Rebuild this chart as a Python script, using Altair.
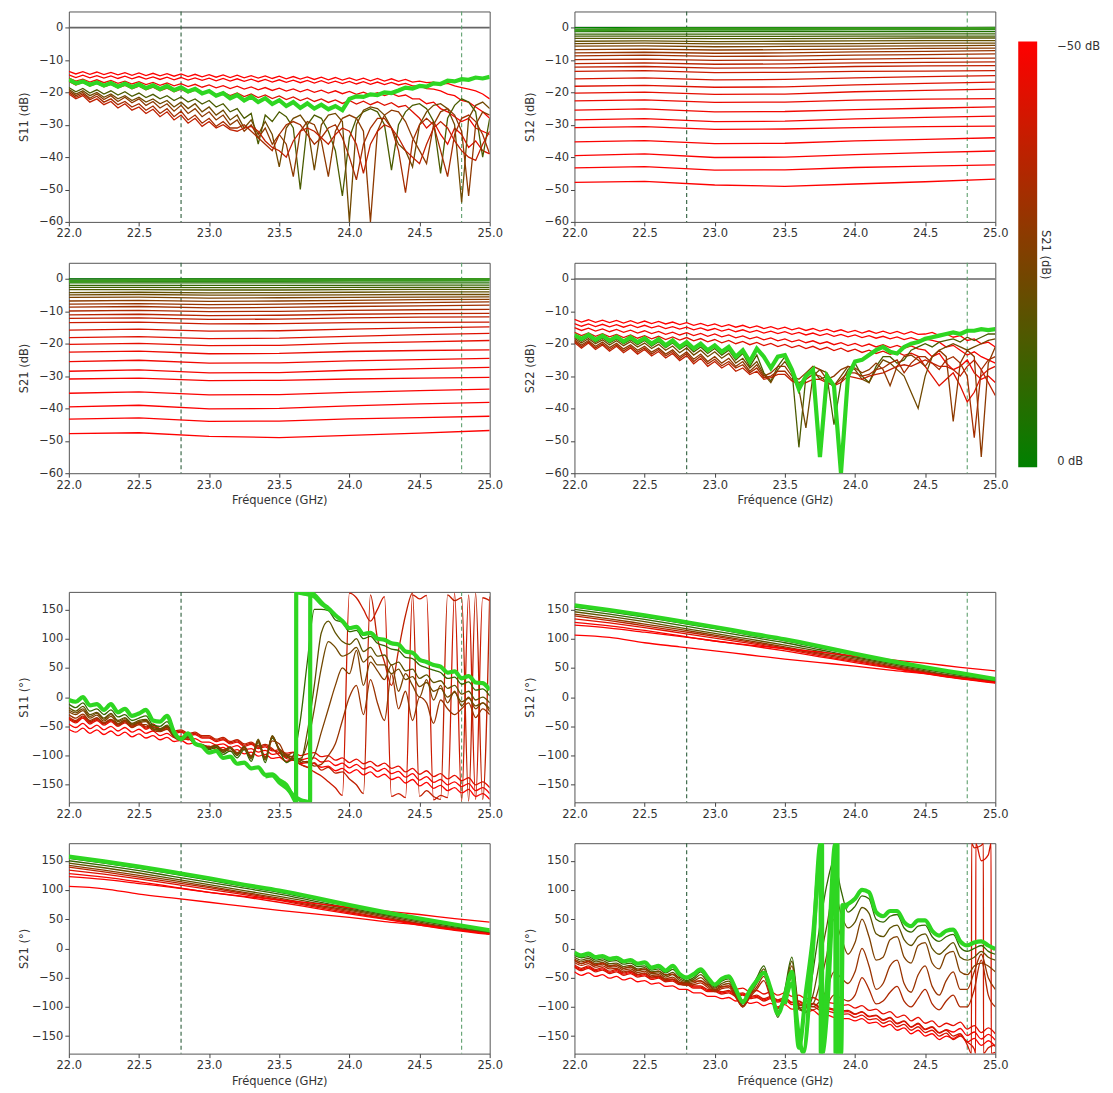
import pandas as pd
import altair as alt

# ---------------- frequency grids (GHz) ----------------
FREQ = [round(22.0 + 0.05 * i, 2) for i in range(61)]
ANCH7 = [22.0, 22.5, 23.0, 23.5, 24.0, 24.5, 25.0]
ANCH13 = [22.0, 22.25, 22.5, 22.75, 23.0, 23.25, 23.5, 23.75, 24.0, 24.25, 24.5, 24.75, 25.0]
XTICKS = [22.0, 22.5, 23.0, 23.5, 24.0, 24.5, 25.0]
DB_TICKS = [-60, -50, -40, -30, -20, -10, 0]
PH_TICKS = [-150, -100, -50, 0, 50, 100, 150]
MARKERS = [22.8, 24.8]


def vals(s):
    return [float(x) for x in s.split()]


# ---------------- S12 / S21 magnitude (dB), one list per anchor frequency ----------------
THRU_DB_22_0 = vals("0.0 -0.7 -1.2 -2.0 -2.6 -3.3 -4.2 -4.9 -5.7 -6.8 -7.8 -8.7 -9.9 -11.1 -12.2 -13.5 -15.8 -18.1 -20.2 -22.6 -25.5 -28.5 -30.9 -35.3 -39.5 -43.3 -47.8")
THRU_DB_22_5 = vals("0.0 -0.7 -1.2 -2.0 -2.6 -3.3 -4.1 -4.8 -5.6 -6.6 -7.6 -8.5 -9.7 -10.9 -12.0 -13.3 -15.5 -17.8 -19.9 -22.3 -25.1 -28.1 -30.6 -34.9 -39.0 -42.9 -47.5")
THRU_DB_23_0 = vals("0.0 -0.7 -1.2 -2.0 -2.7 -3.4 -4.3 -5.0 -5.9 -6.9 -7.9 -8.9 -10.1 -11.3 -12.5 -13.9 -16.1 -18.4 -20.6 -23.1 -26.0 -29.0 -31.4 -35.8 -40.1 -44.0 -48.6")
THRU_DB_23_5 = vals("0.0 -0.7 -1.2 -2.0 -2.7 -3.4 -4.2 -5.0 -5.8 -6.8 -7.8 -8.8 -10.0 -11.2 -12.4 -13.8 -16.0 -18.3 -20.5 -23.0 -25.9 -28.9 -31.3 -35.7 -40.0 -43.9 -49.0")
THRU_DB_24_0 = vals("0.0 -0.6 -1.2 -2.0 -2.6 -3.3 -4.1 -4.9 -5.7 -6.6 -7.5 -8.5 -9.7 -10.9 -12.0 -13.5 -15.5 -17.7 -19.8 -22.4 -25.3 -28.2 -30.9 -35.0 -39.2 -43.2 -48.3")
THRU_DB_24_5 = vals("0.0 -0.6 -1.2 -1.9 -2.6 -3.2 -4.0 -4.8 -5.6 -6.4 -7.3 -8.3 -9.5 -10.7 -11.8 -13.4 -15.1 -17.2 -19.4 -22.1 -24.9 -27.7 -30.6 -34.5 -38.6 -42.8 -47.6")
THRU_DB_25_0 = vals("0.0 -0.6 -1.2 -1.9 -2.6 -3.2 -4.0 -4.8 -5.5 -6.3 -7.1 -8.1 -9.4 -10.6 -11.7 -13.3 -14.8 -16.8 -19.0 -21.9 -24.5 -27.3 -30.4 -34.0 -38.1 -42.4 -46.8")
THRU_DB_LIME = vals("-0.8 -0.4 -0.4 -0.4 -0.3 -0.3 -0.2")

# ---------------- S12 / S21 phase (deg) on ANCH13 ----------------
THRU_PH = {
    ("lime", 0.0): vals("157 149 140 130 120 109 99 87 74 62 51 41 31"),
    ("b1", -0.7): vals("154 146 137 127 117 106 96 84 72 60 49 39 30"),
    ("b2", -2.0): vals("150 142 133 123 113 103 93 81 69 58 47 37 28"),
    ("b3", -4.0): vals("146 138 129 119 109 99 89 78 67 56 45 35 27"),
    ("b4", -6.8): vals("142 134 125 116 106 96 86 75 65 54 43 34 26"),
    ("b5", -11.0): vals("139 131 122 113 104 94 84 73 63 52 42 33 25"),
    ("r1", -18.0): vals("134 127 119 110 101 92 82 71 61 51 41 32 25"),
    ("r2", -28.0): vals("128 122 114 105 96 88 79 69 59 50 40 31 24"),
    ("r3", -39.5): vals("123 118 111 104 96 89 83 77 70 64 58 51 45"),
    ("r4", -47.8): vals("106 102 93 86 79 72 65 59 53 46 40 32 25"),
}

# ---------------- S11 magnitude (dB) on FREQ ----------------
S11_DB_LIME = vals("""-16.0 -17.2 -16.6 -17.6 -16.9 -17.9 -17.1 -18.2 -17.3 -18.4
-17.5 -18.7 -17.8 -19.0 -18.0 -19.3 -18.4 -19.7 -18.9 -20.3
-19.6 -21.0 -20.2 -21.8 -20.8 -22.5 -21.3 -23.0 -21.8 -23.6
-22.4 -24.2 -23.0 -24.8 -23.4 -25.0 -23.8 -25.2 -24.2 -25.5
-22.0 -21.2 -21.4 -20.6 -20.8 -20.0 -20.2 -19.4 -18.5 -18.8
-18.0 -18.2 -17.2 -17.4 -16.4 -16.6 -15.9 -16.1 -15.4 -15.7 -15.2""")
S11_DB_R1 = vals("""-13.5 -14.3 -13.6 -14.4 -13.7 -14.5 -13.8 -14.6 -13.9 -14.7
-14.0 -14.8 -14.1 -14.9 -14.2 -15.0 -14.3 -15.1 -14.4 -15.2
-14.5 -15.3 -14.6 -15.4 -14.7 -15.5 -14.8 -15.6 -14.9 -15.7
-15.0 -15.8 -15.1 -15.9 -15.2 -16.0 -15.3 -16.1 -15.4 -16.2
-15.5 -16.3 -15.6 -16.4 -15.7 -16.5 -15.8 -16.6 -16.0 -16.8
-16.5 -17.0 -16.8 -17.5 -17.2 -18.0 -18.5 -19.0 -19.5 -20.5 -22.0""")
S11_DB_R2 = vals("""-14.6 -15.4 -14.7 -15.5 -14.8 -15.6 -14.9 -15.7 -15.0 -15.8
-15.1 -15.9 -15.2 -16.0 -15.3 -16.1 -15.4 -16.2 -15.5 -16.3
-15.6 -16.4 -15.7 -16.5 -15.8 -16.6 -15.9 -16.7 -16.0 -16.8
-16.1 -16.9 -16.2 -17.0 -16.3 -17.1 -16.4 -17.2 -16.5 -17.3
-16.6 -17.4 -16.7 -17.5 -16.8 -17.6 -16.9 -17.7 -17.2 -18.0
-18.0 -18.8 -19.0 -19.5 -20.5 -21.0 -22.5 -23.0 -24.5 -26.0 -28.0""")
S11_DB_R3 = vals("""-15.6 -16.5 -15.9 -16.8 -16.1 -17.0 -16.3 -17.2 -16.5 -17.4
-16.7 -17.6 -16.9 -17.8 -17.1 -18.0 -17.3 -18.2 -17.5 -18.4
-17.7 -18.6 -17.9 -18.8 -18.1 -19.0 -18.3 -19.2 -18.5 -19.4
-18.7 -19.6 -18.9 -19.8 -19.1 -20.0 -19.3 -20.2 -19.5 -20.4
-19.7 -20.6 -19.9 -20.8 -20.1 -21.0 -20.3 -21.2 -20.8 -22.0
-22.0 -23.5 -23.0 -25.0 -26.0 -27.5 -29.0 -28.0 -31.0 -32.0 -33.0""")
S11_DB_R4 = vals("""-16.6 -17.7 -16.9 -18.0 -17.2 -18.3 -17.5 -18.6 -17.8 -18.9
-18.1 -19.2 -18.4 -19.5 -18.7 -19.8 -19.0 -20.1 -19.3 -20.4
-19.6 -20.7 -19.9 -21.0 -20.2 -21.3 -20.5 -21.6 -20.8 -21.9
-21.1 -22.2 -21.4 -22.5 -21.7 -22.8 -22.0 -23.1 -22.3 -23.4
-22.5 -23.6 -22.7 -23.8 -22.9 -24.0 -23.2 -24.5 -24.0 -26.0
-28.0 -31.0 -29.0 -33.0 -36.0 -31.0 -33.0 -37.0 -35.0 -38.0 -39.0""")
S11_DB_B1 = vals("""-18.5 -19.8 -18.8 -20.2 -19.2 -20.5 -19.5 -20.8 -19.8 -21.2
-20.2 -21.6 -20.6 -22.0 -21.0 -22.5 -21.4 -23.0 -22.0 -23.6
-22.5 -24.5 -23.5 -26.0 -25.0 -28.0 -26.5 -36.0 -27.0 -29.0
-26.0 -27.5 -31.0 -50.0 -30.0 -27.0 -28.0 -32.0 -38.0 -52.0
-34.0 -28.0 -26.0 -25.0 -26.0 -30.0 -44.0 -30.0 -26.0 -24.0
-23.5 -25.0 -29.0 -45.0 -28.0 -24.0 -22.0 -23.0 -26.0 -40.0 -28.0""")
S11_DB_B2 = vals("""-19.0 -20.5 -19.5 -21.0 -20.0 -21.5 -20.5 -22.0 -21.0 -22.5
-21.5 -23.0 -22.0 -23.5 -22.5 -24.5 -23.0 -25.0 -23.5 -26.0
-24.5 -27.0 -25.5 -28.5 -27.0 -31.0 -28.5 -33.0 -29.0 -33.0
-43.0 -31.0 -28.0 -27.0 -30.0 -44.0 -30.0 -27.0 -26.5 -29.0
-60.0 -30.0 -25.5 -24.5 -25.0 -27.0 -31.0 -36.0 -38.0 -43.0
-30.0 -26.0 -24.0 -23.5 -25.0 -30.0 -54.0 -28.0 -24.0 -23.0 -25.0""")
S11_DB_B3 = vals("""-19.5 -21.0 -20.0 -21.8 -20.5 -22.2 -21.0 -22.8 -21.5 -23.2
-22.0 -24.0 -22.8 -24.8 -23.5 -25.8 -24.0 -26.5 -25.0 -27.5
-26.0 -28.5 -27.0 -30.0 -28.5 -32.0 -30.0 -34.0 -31.0 -36.0
-33.0 -36.0 -46.0 -32.0 -29.0 -30.0 -35.0 -46.0 -32.0 -28.0
-27.0 -28.0 -32.0 -60.0 -32.0 -27.0 -25.5 -26.0 -29.0 -34.0
-38.0 -42.0 -30.0 -26.0 -25.0 -27.0 -32.0 -52.0 -30.0 -26.0 -27.0""")
S11_DB_B4 = vals("""-20.0 -21.5 -20.5 -22.3 -21.2 -23.0 -22.0 -23.8 -22.8 -24.5
-23.5 -25.5 -24.2 -26.5 -25.0 -27.5 -25.8 -28.5 -27.0 -29.5
-28.0 -30.5 -29.0 -31.0 -31.0 -30.0 -32.0 -34.0 -36.0 -38.0
-33.0 -30.0 -29.0 -30.0 -33.0 -36.0 -34.0 -31.0 -30.0 -34.0
-40.0 -47.0 -36.0 -31.0 -28.0 -28.0 -31.0 -38.0 -51.0 -35.0
-30.0 -28.0 -30.0 -38.0 -46.0 -33.0 -28.0 -27.0 -29.0 -33.0 -39.0""")
S11_DB_B5 = vals("""-20.5 -22.0 -21.0 -23.0 -22.0 -23.8 -22.8 -24.8 -23.5 -25.5
-24.5 -26.5 -25.2 -27.5 -26.0 -28.5 -27.0 -29.5 -28.0 -30.5
-29.0 -31.0 -30.0 -31.5 -32.0 -31.0 -30.5 -32.0 -35.0 -37.0
-38.0 -40.0 -35.0 -32.0 -31.0 -32.0 -34.0 -36.0 -33.0 -31.0
-32.0 -36.0 -45.0 -36.0 -32.0 -30.0 -31.0 -34.0 -38.0 -40.0
-42.0 -36.0 -31.0 -29.0 -31.0 -35.0 -38.0 -40.0 -41.0 -36.0 -32.0""")

# ---------------- S22 magnitude (dB) on FREQ ----------------
S22_DB_LIME = vals("""-17.3 -18.5 -17.2 -18.8 -17.5 -19.0 -17.8 -19.3 -18.0 -19.5
-18.3 -20.0 -18.6 -20.5 -19.0 -21.0 -19.5 -21.5 -20.0 -22.0
-20.5 -22.5 -21.0 -24.0 -22.0 -25.5 -21.5 -24.0 -27.5 -24.0
-23.5 -28.0 -34.0 -30.0 -28.0 -55.0 -30.0 -33.0 -60.0 -30.0
-25.5 -25.0 -23.5 -22.0 -21.0 -22.5 -23.0 -21.0 -20.0 -19.5
-18.5 -18.0 -17.5 -17.0 -16.5 -17.0 -16.0 -16.0 -15.5 -15.8 -15.5""")
S22_DB_R1 = vals("""-12.5 -13.3 -12.6 -13.4 -12.7 -13.5 -12.8 -13.6 -12.9 -13.7
-13.0 -13.8 -13.1 -13.9 -13.3 -14.1 -13.5 -14.3 -13.7 -14.5
-13.9 -14.7 -14.1 -14.9 -14.3 -15.1 -14.5 -15.3 -14.7 -15.5
-14.9 -15.7 -15.1 -15.9 -15.3 -16.1 -15.5 -16.3 -15.7 -16.5
-15.9 -16.7 -16.0 -16.8 -16.1 -16.9 -16.2 -17.0 -16.3 -17.1
-17.0 -16.5 -17.5 -17.0 -18.0 -17.5 -19.0 -18.5 -20.0 -19.5 -21.0""")
S22_DB_R2 = vals("""-13.8 -14.6 -13.9 -14.7 -14.0 -14.8 -14.1 -14.9 -14.2 -15.0
-14.3 -15.1 -14.5 -15.3 -14.7 -15.5 -14.9 -15.7 -15.1 -15.9
-15.3 -16.1 -15.5 -16.3 -15.7 -16.5 -15.9 -16.7 -16.1 -16.9
-16.3 -17.1 -16.5 -17.3 -16.7 -17.5 -16.9 -17.7 -17.1 -17.9
-17.3 -18.1 -17.5 -18.3 -17.7 -18.5 -17.9 -18.7 -18.1 -18.9
-18.5 -19.0 -19.5 -21.0 -20.5 -22.0 -23.5 -22.5 -24.0 -25.0 -26.0""")
S22_DB_R3 = vals("""-15.0 -15.9 -15.2 -16.1 -15.4 -16.3 -15.6 -16.5 -15.8 -16.7
-16.0 -16.9 -16.2 -17.1 -16.4 -17.3 -16.6 -17.5 -16.8 -17.7
-17.0 -17.9 -17.3 -18.2 -17.6 -18.5 -17.9 -18.8 -18.2 -19.1
-18.5 -19.4 -18.8 -19.7 -19.1 -20.0 -19.4 -20.3 -19.7 -20.6
-19.9 -20.8 -20.1 -21.0 -20.3 -21.2 -20.5 -21.4 -20.7 -21.6
-22.0 -24.0 -23.0 -26.0 -28.0 -27.0 -25.0 -29.0 -31.0 -30.0 -32.0""")
S22_DB_R4 = vals("""-16.5 -17.5 -16.7 -17.7 -16.9 -17.9 -17.1 -18.1 -17.3 -18.3
-17.5 -18.5 -17.7 -18.7 -17.9 -18.9 -18.1 -19.1 -18.4 -19.4
-18.7 -19.7 -19.0 -20.0 -19.3 -20.3 -19.6 -20.6 -19.9 -20.9
-20.2 -21.2 -20.5 -21.5 -20.8 -21.8 -21.1 -22.1 -21.4 -22.4
-21.7 -22.7 -22.0 -23.0 -22.3 -23.3 -22.6 -23.6 -22.9 -23.9
-27.0 -30.0 -33.0 -31.0 -29.0 -33.0 -38.0 -35.0 -30.0 -28.0 -27.0""")
S22_DB_B1 = vals("""-17.8 -19.2 -17.8 -19.5 -18.2 -19.8 -18.5 -20.0 -18.8 -20.3
-19.0 -20.8 -19.4 -21.2 -19.8 -21.8 -20.4 -22.5 -21.0 -23.0
-21.5 -23.5 -22.0 -25.0 -23.0 -27.0 -23.5 -29.0 -31.5 -27.0
-24.0 -28.0 -52.0 -30.0 -28.0 -31.0 -30.0 -45.0 -32.0 -28.0
-26.0 -30.0 -32.0 -27.0 -24.0 -24.0 -26.0 -25.0 -22.0 -21.0
-20.0 -21.0 -19.5 -19.0 -18.5 -19.5 -18.0 -19.0 -18.0 -17.0 -17.0""")
S22_DB_B2 = vals("""-18.3 -19.8 -18.4 -20.0 -18.8 -20.4 -19.1 -20.6 -19.4 -21.0
-19.8 -21.5 -20.2 -22.0 -20.7 -22.8 -21.3 -23.5 -22.0 -24.0
-22.5 -24.5 -23.0 -26.0 -24.5 -27.5 -25.5 -29.5 -32.0 -28.0
-25.5 -29.0 -34.0 -46.0 -30.0 -28.0 -29.0 -33.0 -30.0 -27.0
-28.0 -31.0 -32.0 -28.0 -25.0 -26.0 -28.0 -30.0 -35.0 -40.0
-30.0 -24.0 -22.0 -21.0 -20.0 -21.0 -22.0 -21.0 -20.0 -19.0 -18.5""")
S22_DB_B3 = vals("""-18.8 -20.4 -19.0 -20.8 -19.5 -21.2 -19.9 -21.6 -20.3 -22.0
-20.8 -22.6 -21.3 -23.2 -21.9 -24.0 -22.5 -24.8 -23.2 -25.5
-24.0 -26.0 -24.5 -27.0 -25.5 -28.5 -26.5 -30.0 -29.0 -27.0
-27.0 -30.0 -31.0 -29.0 -27.0 -28.0 -31.0 -30.0 -28.0 -27.0
-27.5 -29.0 -28.0 -26.0 -28.0 -33.0 -27.0 -24.0 -23.5 -25.0
-27.0 -24.0 -22.0 -24.0 -44.0 -26.0 -22.0 -24.0 -55.0 -26.0 -21.0""")
S22_DB_B4 = vals("""-19.2 -20.9 -19.4 -21.3 -20.0 -21.8 -20.4 -22.2 -20.8 -22.6
-21.3 -23.2 -21.8 -23.8 -22.4 -24.6 -23.0 -25.5 -23.8 -26.2
-24.8 -26.8 -25.5 -27.5 -26.5 -29.0 -27.5 -30.5 -30.0 -28.5
-28.5 -31.0 -32.0 -31.0 -29.5 -30.0 -32.0 -33.0 -31.0 -29.0
-29.0 -30.0 -29.5 -28.0 -27.5 -26.0 -25.0 -29.0 -26.0 -24.0
-24.0 -26.0 -28.0 -25.0 -24.0 -26.0 -30.0 -49.0 -28.0 -25.0 -24.0""")
S22_DB_B5 = vals("""-19.6 -21.4 -19.8 -21.8 -20.4 -22.3 -20.8 -22.8 -21.3 -23.2
-21.8 -23.8 -22.4 -24.4 -23.0 -25.2 -23.7 -26.2 -24.5 -27.0
-25.5 -27.5 -26.2 -28.5 -27.5 -29.5 -28.5 -31.0 -30.5 -29.5
-29.5 -31.5 -32.5 -32.0 -31.0 -31.0 -32.0 -33.0 -32.0 -30.0
-30.5 -31.0 -30.0 -29.5 -29.0 -28.0 -27.0 -26.5 -27.0 -26.0
-25.0 -26.0 -27.0 -27.0 -28.0 -30.0 -27.0 -25.0 -28.0 -32.0 -36.0""")

# ---------------- S11 phase (deg) on FREQ ----------------
S11_PH_LIME = vals("""-5 -8 0 -14 -12 -22 -12 -26 -20 -32
-28 -22 -40 -42 -32 -60 -72 -62 -80 -84
-95 -92 -104 -102 -114 -112 -122 -120 -133 -132
-142 -150 -172 178 176 172 160 152 140 130
118 120 108 110 100 98 92 90 78 76
64 60 55 52 42 44 32 36 25 24 12""")
S11_PH_LIME_WRAP = [(23.62, -180.0), (23.621, 180.0)]
S11_PH_LIME2_F = [23.40, 23.45, 23.50, 23.55, 23.60, 23.65, 23.70, 23.72, 23.721, 23.75, 23.80, 23.85]
S11_PH_LIME2_V = [-136, -134, -146, -155, -168, -176, -179, -180, 180, 175, 162, 150]
S11_PH_R1 = vals("""-38 -44 -36 -46 -40 -48 -42 -50 -44 -52
-47 -55 -50 -58 -54 -62 -60 -66 -64 -70
-70 -76 -73 -80 -77 -84 -81 -88 -85 -92
-90 -96 -94 -100 -97 -95 -102 -100 -108 -104
-112 -106 -114 -110 -118 -113 -122 -118 -128 -122
-132 -126 -136 -131 -140 -134 -143 -138 -150 -145 -155""")
S11_PH_R2 = vals("""-46 -52 -45 -54 -48 -56 -50 -58 -52 -60
-55 -62 -58 -66 -62 -69 -67 -73 -71 -77
-77 -82 -80 -86 -83 -90 -88 -94 -91 -98
-96 -103 -101 -107 -105 -104 -111 -109 -117 -113
-121 -115 -123 -119 -127 -122 -131 -127 -137 -131
-142 -136 -146 -141 -150 -145 -153 -148 -160 -155 -165""")
S11_PH_R3 = vals("""-55 -60 -53 -62 -56 -64 -58 -66 -60 -68
-63 -70 -66 -73 -69 -76 -74 -80 -78 -84
-84 -89 -86 -93 -90 -97 -94 -101 -98 -105
-103 -110 -108 -114 -112 -114 -120 -118 -126 -122
-130 -124 -133 -128 -137 -132 -141 -137 -147 -141
-152 -146 -156 -151 -160 -155 -164 -158 -170 -165 -175""")
S11_PH_B1 = vals("""-12 -18 -10 -24 -20 -30 -22 -34 -30 -40
-36 -32 -48 -50 -42 -64 -72 -66 -80 -84
-90 -86 -98 -92 -104 -90 -110 -78 -112 -70
-90 -112 -100 -40 60 150 150 148 132 128
112 114 100 104 92 88 82 80 68 66
55 50 46 42 32 34 22 26 12 14 2""")
S11_PH_B2 = vals("""-18 -24 -16 -30 -26 -36 -28 -40 -35 -45
-40 -38 -52 -54 -48 -66 -72 -68 -80 -82
-88 -84 -95 -88 -100 -86 -106 -72 -108 -66
-90 -100 -108 -110 -60 20 110 130 110 95
90 100 78 85 70 72 55 60 45 48
32 38 25 28 15 20 5 10 -5 0 -10""")
S11_PH_B3 = vals("""-25 -30 -23 -36 -31 -41 -33 -45 -39 -48
-44 -42 -55 -57 -51 -68 -73 -69 -80 -81
-86 -82 -92 -85 -97 -84 -102 -76 -104 -68
-88 -98 -104 -108 -112 -100 -60 -20 20 50
40 80 20 60 45 30 55 10 40 20
0 30 -5 20 -10 10 -15 0 -20 -10 -25""")
S11_PH_B4 = vals("""-30 -36 -29 -40 -35 -45 -38 -48 -42 -52
-47 -47 -57 -59 -55 -69 -74 -71 -80 -82
-85 -83 -90 -86 -95 -88 -100 -82 -102 -75
-80 -100 -95 -112 -110 -118 -115 -100 -80 -40
0 20 -30 30 -10 -40 40 -20 10 -40
0 -10 -45 -5 -20 -30 -20 -10 -35 -20 -30""")
S11_PH_B5 = vals("""-22 -27 -20 -33 -28 -38 -30 -42 -37 -46
-42 -40 -54 -56 -50 -67 -72 -68 -80 -82
-87 -83 -93 -86 -98 -85 -104 -74 -106 -67
-92 -102 -106 -105 -80 -20 50 95 85 70
75 85 60 70 55 55 40 48 30 35
18 25 10 15 0 8 -8 -2 -15 -10 -20""")
S11_PH_O1 = vals("""-36 -42 -34 -44 -38 -46 -40 -48 -42 -50
-45 -53 -48 -56 -52 -60 -58 -64 -62 -68
-68 -74 -71 -78 -75 -82 -79 -86 -83 -90
-95 -105 -108 -115 -120 -128 -135 -145 -155 -168
178 170 150 130 150 172 -170 -165 -172 175
168 174 -176 -168 -172 178 -178 175 -175 170 165""")
S11_PH_O2 = vals("""-34 -40 -32 -42 -36 -44 -38 -46 -40 -48
-43 -51 -46 -54 -50 -58 -56 -62 -60 -66
-66 -72 -69 -76 -73 -80 -77 -84 -81 -88
-100 -110 -105 -115 -120 -112 -125 -120 -130 -128
-140 -150 -165 175 100 60 20 80 140 178
-170 -160 -170 -175 175 165 170 -178 178 -175 172""")

# ---------------- S22 phase (deg) on FREQ ----------------
S22_PH_LIME = vals("""-7 -12 -9 -15 -13 -18 -16 -22 -20 -26
-24 -33 -30 -38 -30 -44 -50 -44 -36 -50
-62 -52 -48 -70 -92 -72 -55 -42 -70 -112
-80 -40 -170 -75 20 160 -110 120 -180 76
85 100 96 62 55 64 64 45 38 48
48 30 22 30 32 12 5 10 12 5 -1""")
S22_PH_LIME_WRAP = [(23.765, 180.0), (23.766, -180.0), (23.875, 180.0), (23.876, -180.0), (23.915, 72.0)]
S22_PH_LIME2_F = [23.50, 23.55, 23.60, 23.63, 23.70, 23.755, 23.756, 23.80, 23.86, 23.861, 23.90, 23.91, 23.95]
S22_PH_LIME2_V = [-95, -60, -150, -178, 0, 180, -180, -60, 180, -180, -180, 74, 70]
S22_PH_R1 = vals("""-20 -26 -22 -28 -25 -31 -28 -34 -31 -37
-35 -41 -39 -45 -44 -50 -50 -56 -56 -62
-62 -66 -64 -70 -68 -74 -72 -78 -74 -80
-76 -82 -80 -86 -84 -90 -92 -94 -98 -96
-102 -98 -106 -104 -112 -108 -118 -114 -124 -118
-128 -124 -134 -128 -132 -126 -138 -132 -144 -136 -146""")
S22_PH_R2 = vals("""-30 -36 -32 -38 -35 -41 -38 -44 -41 -47
-45 -51 -49 -55 -54 -60 -60 -66 -66 -72
-72 -76 -74 -80 -78 -84 -82 -88 -84 -90
-86 -93 -91 -98 -95 -102 -103 -106 -109 -108
-113 -109 -117 -115 -123 -119 -129 -125 -135 -129
-139 -135 -145 -139 -143 -137 -149 -143 -155 -147 -157""")
S22_PH_R3 = vals("""-40 -46 -42 -48 -45 -51 -48 -54 -51 -57
-55 -61 -59 -65 -64 -70 -70 -76 -76 -82
-82 -86 -84 -90 -88 -94 -92 -98 -94 -100
-96 -104 -102 -110 -106 -114 -114 -118 -120 -120
-124 -120 -128 -126 -134 -130 -140 -136 -146 -140
-150 -146 -156 -150 -154 -148 -160 -154 -166 -158 -168""")
S22_PH_B1 = vals("""-12 -16 -14 -20 -18 -22 -21 -27 -25 -31
-30 -37 -35 -42 -36 -48 -55 -50 -40 -55
-66 -56 -52 -75 -95 -75 -50 -30 -75 -118
-70 -15 -100 -110 -40 40 110 150 100 62
72 90 85 50 45 55 58 35 28 38
40 20 12 20 24 2 -5 0 5 -5 -10""")
S22_PH_B2 = vals("""-15 -20 -17 -23 -21 -26 -25 -31 -29 -35
-33 -40 -39 -46 -41 -52 -57 -53 -45 -58
-68 -60 -56 -78 -98 -78 -55 -35 -80 -112
-75 -22 -105 -108 -80 -20 40 100 60 35
45 70 60 25 20 35 40 15 5 20
25 0 -10 0 10 -15 -20 -15 -5 -15 -20""")
S22_PH_B3 = vals("""-18 -23 -20 -26 -24 -29 -28 -34 -32 -38
-36 -43 -42 -49 -45 -55 -59 -56 -50 -61
-70 -63 -60 -80 -100 -80 -60 -40 -82 -108
-78 -30 -102 -100 -95 -60 -10 50 20 -10
10 50 20 -20 -15 15 20 -15 -25 5
10 -25 -35 -10 -5 -40 -45 -30 -25 -30 -40""")
S22_PH_B4 = vals("""-21 -26 -23 -29 -27 -32 -31 -37 -35 -41
-39 -46 -45 -52 -49 -58 -61 -59 -55 -64
-72 -66 -64 -82 -100 -82 -66 -48 -84 -104
-80 -40 -98 -95 -100 -90 -70 -40 -50 -60
-40 0 -30 -70 -60 -30 -20 -60 -75 -45
-30 -65 -80 -55 -40 -70 -70 -40 -10 -50 -70""")
S22_PH_B5 = vals("""-24 -29 -26 -32 -30 -35 -34 -40 -38 -44
-42 -49 -48 -55 -53 -61 -63 -62 -59 -67
-74 -69 -67 -84 -100 -84 -70 -55 -86 -102
-82 -50 -96 -100 -105 -100 -95 -80 -85 -90
-80 -50 -70 -95 -90 -75 -65 -90 -100 -85
-70 -95 -105 -90 -80 -100 -100 -70 -20 -80 -100""")
S22_PH_O1 = vals("""-28 -34 -30 -36 -33 -39 -36 -42 -39 -45
-43 -49 -47 -53 -52 -58 -58 -64 -64 -70
-70 -74 -72 -78 -76 -82 -80 -86 -82 -88
-84 -92 -90 -96 -94 -100 -101 -104 -107 -106
-112 -108 -116 -114 -122 -118 -128 -124 -134 -128
-138 -134 -144 -140 -150 -146 -165 172 176 -170 -165""")
S22_PH_O1_WRAP = [(24.83, -180.0), (24.831, 180.0), (24.915, 180.0), (24.916, -180.0)]
S22_PH_O2 = vals("""-32 -38 -34 -40 -37 -43 -40 -46 -43 -49
-47 -53 -51 -57 -56 -62 -62 -68 -68 -74
-74 -78 -76 -82 -80 -86 -84 -90 -86 -92
-88 -96 -94 -102 -99 -106 -107 -110 -113 -112
-118 -114 -122 -120 -128 -124 -134 -130 -140 -134
-144 -140 -150 -145 -156 -150 -160 -172 150 160 -178""")
S22_PH_O2_WRAP = [(24.86, -180.0), (24.861, 180.0), (24.97, 180.0), (24.971, -180.0)]

# ---------------- build the long table ----------------
rows = []


def add(panel, name, state, values, freqs=FREQ, kind="n", extra=()):
    if len(values) != len(freqs):
        raise ValueError(f"{panel}/{name}: {len(values)} values for {len(freqs)} freqs")
    pts = list(zip(freqs, values)) + list(extra)
    pts.sort(key=lambda p: p[0])
    t = 1.0 - 10 ** (state / 20.0)
    for f, v in pts:
        rows.append({"panel": panel, "line": name, "kind": kind, "t": t, "f": f, "v": v})


THRU_ANCHORS = [THRU_DB_22_0, THRU_DB_22_5, THRU_DB_23_0, THRU_DB_23_5, THRU_DB_24_0, THRU_DB_24_5, THRU_DB_25_0]
for panel in ("S12dB", "S21dB"):
    for k in range(len(THRU_DB_22_0)):
        add(panel, f"s{k}", THRU_DB_22_0[k], [a[k] for a in THRU_ANCHORS], freqs=ANCH7)
    add(panel, "lime", 0.0, THRU_DB_LIME, freqs=ANCH7, kind="lime")
for panel in ("S12ph", "S21ph"):
    for (name, st), v in THRU_PH.items():
        add(panel, name, st, v, freqs=ANCH13, kind="lime" if name == "lime" else "n")

for name, st, v in [("r1", -47.8, S11_DB_R1), ("r2", -35, S11_DB_R2), ("r3", -25, S11_DB_R3),
                    ("r4", -18, S11_DB_R4), ("b1", -3, S11_DB_B1), ("b2", -5, S11_DB_B2),
                    ("b3", -7, S11_DB_B3), ("b4", -9, S11_DB_B4), ("b5", -12, S11_DB_B5)]:
    add("S11dB", name, st, v)
add("S11dB", "lime", 0.0, S11_DB_LIME, kind="lime")

for name, st, v in [("r1", -47.8, S22_DB_R1), ("r2", -35, S22_DB_R2), ("r3", -25, S22_DB_R3),
                    ("r4", -18, S22_DB_R4), ("b1", -3, S22_DB_B1), ("b2", -5, S22_DB_B2),
                    ("b3", -7, S22_DB_B3), ("b4", -9, S22_DB_B4), ("b5", -12, S22_DB_B5)]:
    add("S22dB", name, st, v)
add("S22dB", "lime", 0.0, S22_DB_LIME, kind="lime")

for name, st, v in [("r1", -20, S11_PH_R1), ("r2", -35, S11_PH_R2), ("r3", -47.8, S11_PH_R3),
                    ("o1", -14, S11_PH_O1), ("o2", -12, S11_PH_O2), ("b1", -2, S11_PH_B1),
                    ("b2", -4, S11_PH_B2), ("b3", -6, S11_PH_B3), ("b4", -8, S11_PH_B4),
                    ("b5", -5, S11_PH_B5)]:
    add("S11ph", name, st, v)
add("S11ph", "lime", 0.0, S11_PH_LIME, kind="lime", extra=S11_PH_LIME_WRAP)
add("S11ph", "lime2", 0.0, S11_PH_LIME2_V, freqs=S11_PH_LIME2_F, kind="lime")

for name, st, v, ex in [("r1", -20, S22_PH_R1, ()), ("r2", -35, S22_PH_R2, ()), ("r3", -47.8, S22_PH_R3, ()),
                        ("o1", -14, S22_PH_O1, S22_PH_O1_WRAP), ("o2", -16, S22_PH_O2, S22_PH_O2_WRAP),
                        ("b1", -2, S22_PH_B1, ()), ("b2", -4, S22_PH_B2, ()), ("b3", -6, S22_PH_B3, ()),
                        ("b4", -8, S22_PH_B4, ()), ("b5", -10, S22_PH_B5, ())]:
    add("S22ph", name, st, v, extra=ex)
add("S22ph", "lime", 0.0, S22_PH_LIME, kind="lime", extra=S22_PH_LIME_WRAP)
add("S22ph", "lime2", 0.0, S22_PH_LIME2_V, freqs=S22_PH_LIME2_F, kind="lime")

DF = pd.DataFrame(rows)

# ---------------- chart ----------------
W, H = 422, 211
XSCALE = alt.Scale(domain=[22, 25], nice=False, zero=False)
DB_SCALE = alt.Scale(domain=[-60, 5], nice=False, zero=False)
PH_SCALE = alt.Scale(domain=[-180, 180], nice=False, zero=False)
LIME = "#2ed622"

LEGEND = alt.Legend(
    orient="none", legendX=952, legendY=30, direction="vertical",
    gradientLength=427, gradientThickness=19, gradientStrokeWidth=0,
    title=None, values=[0, 1],
    labelExpr="datum.value > 0.5 ? '−50 dB' : '0 dB'",
    labelFontSize=11.5, labelColor="#333", labelOffset=20, labelBaseline="middle", padding=0,
)
COLOR = alt.Color(
    "t:Q",
    scale=alt.Scale(domain=[0, 1], range=["#008000", "#ff0000"], interpolate="rgb"),
    legend=LEGEND,
)


def make_panel(key, ytitle, is_db, show_xtitle, extra_layers=()):
    d = DF[DF.panel == key]
    yscale = DB_SCALE if is_db else PH_SCALE
    interp = "linear" if is_db else "monotone"
    xaxis = alt.Axis(values=XTICKS, format=".1f", labelFlush=False,
                     title="Fréquence (GHz)" if show_xtitle else None)
    yaxis = alt.Axis(values=DB_TICKS if is_db else PH_TICKS, title=ytitle,
                     minExtent=35, maxExtent=35, labelOverlap=False)
    x = alt.X("f:Q", scale=XSCALE, axis=xaxis)
    y = alt.Y("v:Q", scale=yscale, axis=yaxis)

    layers = []
    if is_db:
        layers.append(alt.Chart(pd.DataFrame({"v": [0]})).mark_rule(color="#666666", strokeWidth=1.6)
                      .encode(y=y))
    layers.append(alt.Chart(pd.DataFrame({"f": [MARKERS[0]]}))
                  .mark_rule(color="#2d5e3c", strokeDash=[4, 3], strokeWidth=1.1).encode(x=x))
    layers.append(alt.Chart(pd.DataFrame({"f": [MARKERS[1]]}))
                  .mark_rule(color="#5fa06e", strokeDash=[4, 3], strokeWidth=1.1).encode(x=x))
    layers.append(alt.Chart(d[d.kind == "n"]).mark_line(strokeWidth=1.3, clip=True, interpolate=interp)
                  .encode(x=x, y=y, color=COLOR, detail="line:N"))
    if key in ("S12dB", "S21dB"):
        lw, lc = 3.0, "#3a9a1e"
    else:
        lw, lc = 4.2, LIME
    layers.append(alt.Chart(d[d.kind == "lime"]).mark_line(strokeWidth=lw, color=lc, clip=True,
                                                           interpolate=interp)
                  .encode(x=x, y=y, detail="line:N"))
    layers.extend(extra_layers)
    return alt.layer(*layers).properties(width=W, height=H)


cbar_title = (alt.Chart(pd.DataFrame({"s": ["S21 (dB)"]}))
              .mark_text(angle=90, fontSize=11.5, color="#333", font="DejaVu Sans")
              .encode(x=alt.value(472), y=alt.value(244), text="s:N"))

p11 = make_panel("S11dB", "S11 (dB)", True, False)
p12 = make_panel("S12dB", "S12 (dB)", True, False, [cbar_title])
p21 = make_panel("S21dB", "S21 (dB)", True, True)
p22 = make_panel("S22dB", "S22 (dB)", True, True)
q11 = make_panel("S11ph", "S11 (°)", False, False)
q12 = make_panel("S12ph", "S12 (°)", False, False)
q21 = make_panel("S21ph", "S21 (°)", False, True)
q22 = make_panel("S22ph", "S22 (°)", False, True)

spacer = (alt.Chart(pd.DataFrame({"z": [0]})).mark_point(opacity=0)
          .properties(width=W, height=37, view=alt.ViewBackground(stroke="transparent")))

chart = alt.concat(
    p11, p12, p21, p22, spacer, spacer, q11, q12, q21, q22,
    columns=2, spacing={"row": 41, "column": 85}, bounds="flush", align="each",
).properties(
    padding={"left": 10, "top": 0, "right": 4, "bottom": 4},
    background="white",
).configure(
    font="DejaVu Sans",
).configure_view(
    stroke="#555555", strokeWidth=1,
).configure_axis(
    grid=False, domain=False, tickColor="#444", tickSize=4,
    labelFont="DejaVu Sans", labelFontSize=11.5, labelColor="#333",
    titleFont="DejaVu Sans", titleFontSize=11.5, titleFontWeight="normal", titleColor="#333",
)

chart.save("out.html", embed_options={"renderer": "svg", "actions": False})
